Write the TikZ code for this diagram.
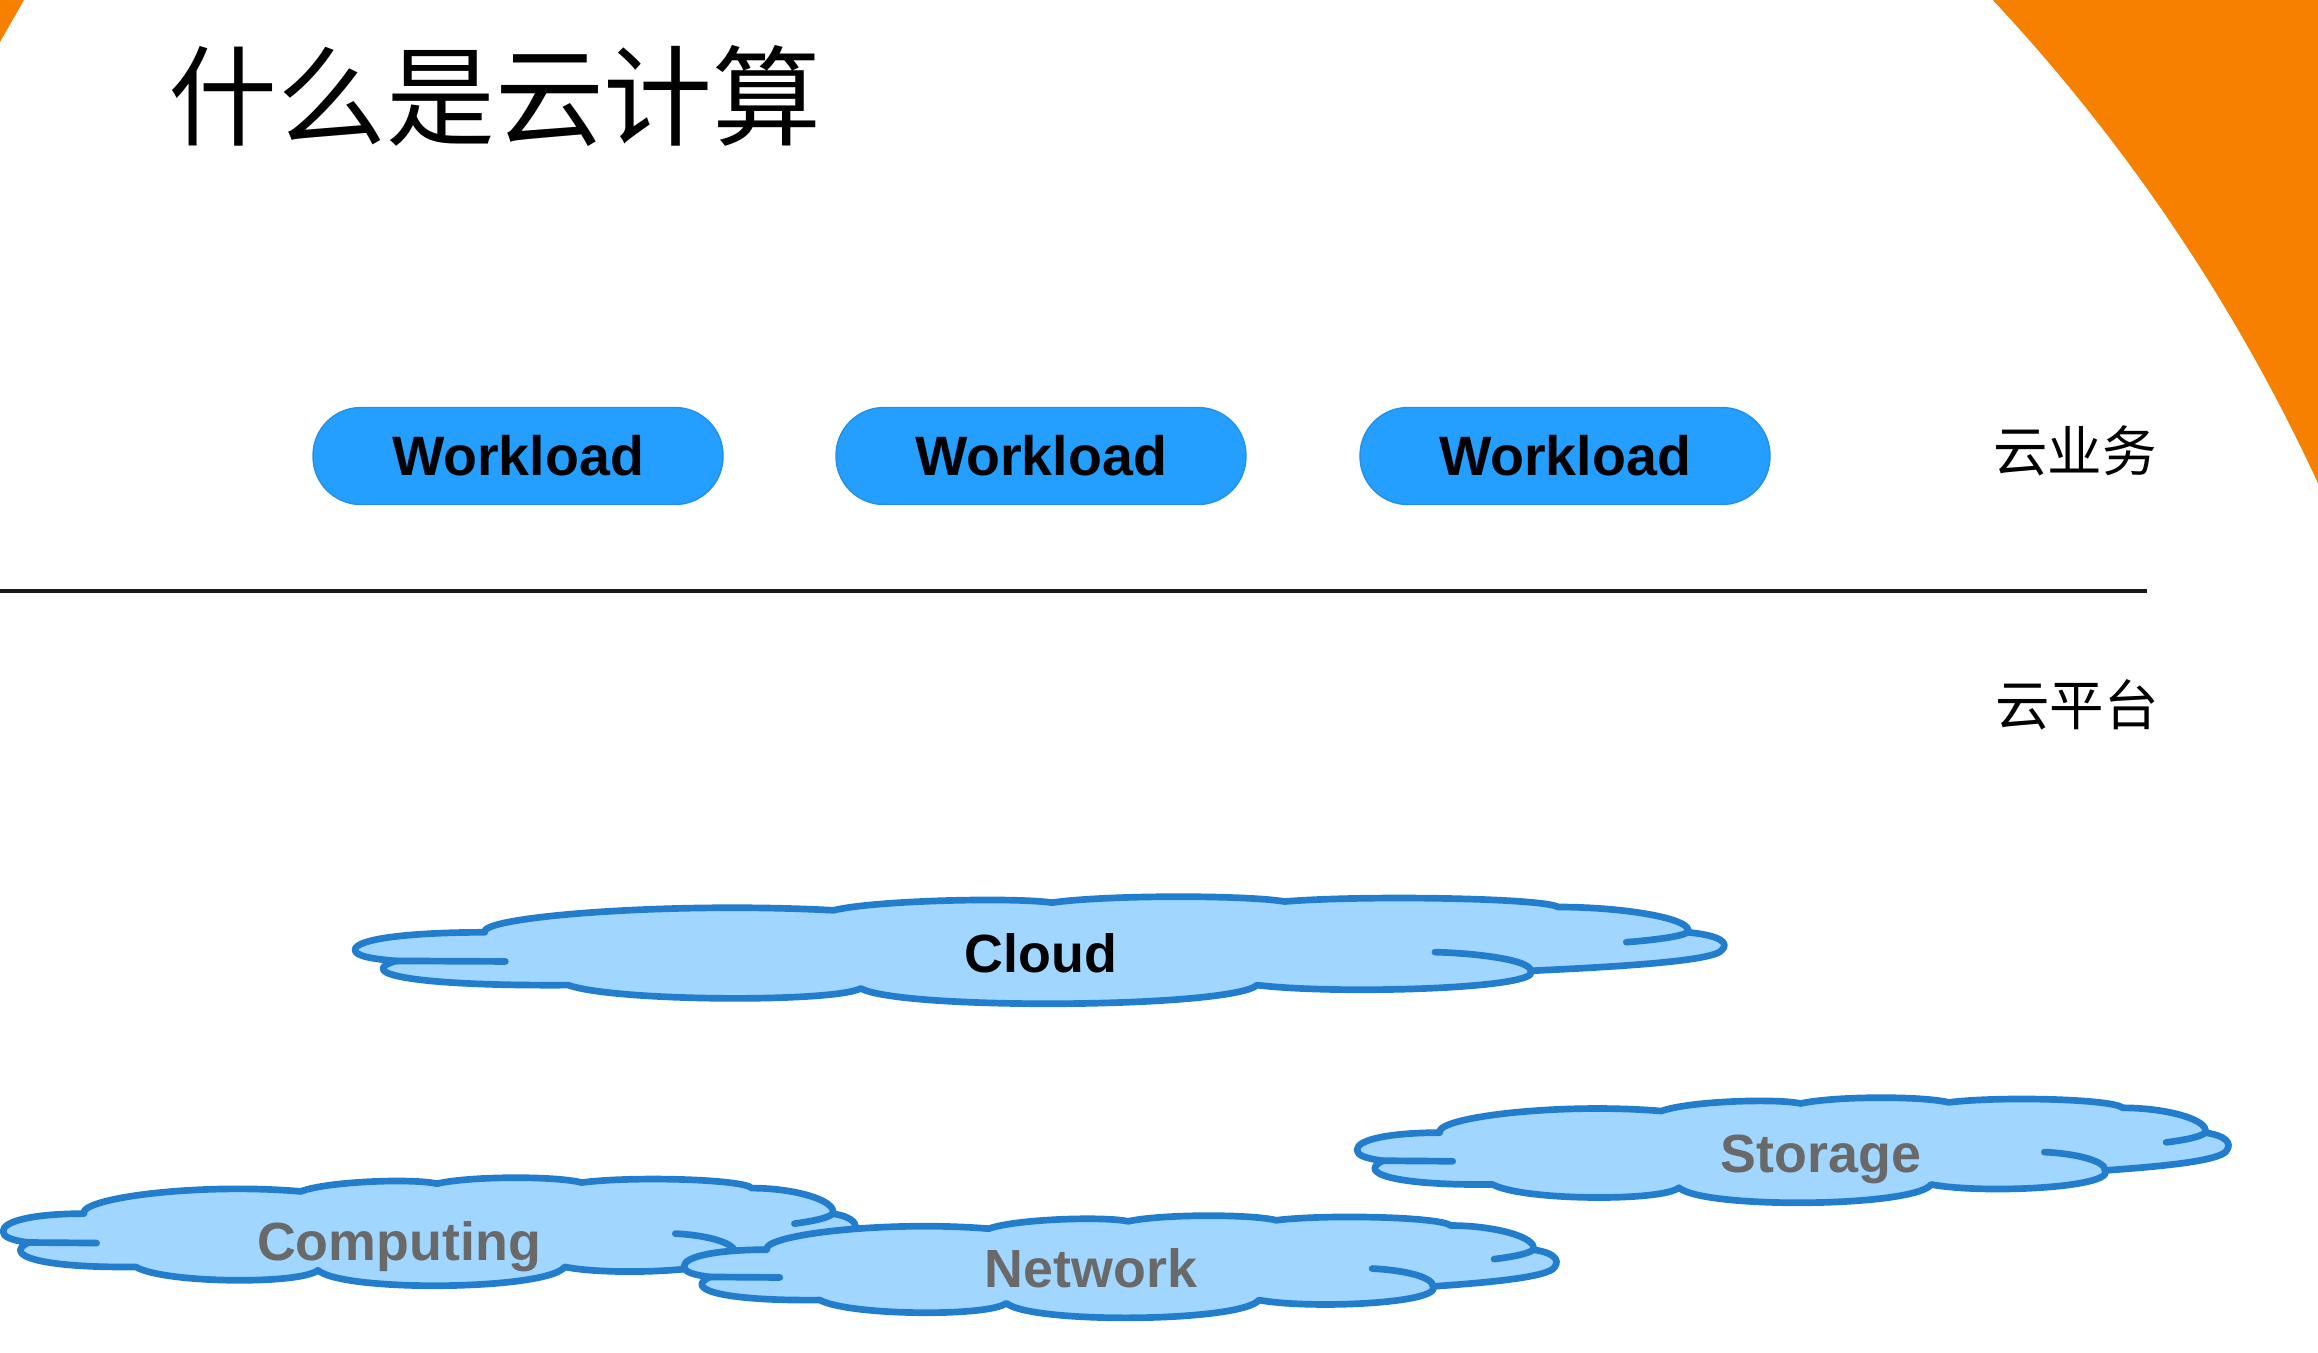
\documentclass[tikz,border=0pt]{standalone}
\usepackage{fontspec}
\setmainfont{Liberation Sans}
\newfontfamily\cjkfont{Noto Sans CJK SC}
\definecolor{slideorange}{RGB}{247,128,0}
\definecolor{wlblue}{RGB}{36,158,255}
\definecolor{cldfill}{RGB}{160,214,255}
\definecolor{cldline}{RGB}{35,125,205}
\definecolor{txtgray}{RGB}{105,105,105}
\tikzset{
  wlbox/.style={rectangle,rounded corners=4.8mm,fill=wlblue,draw=wlblue!92!black,
                minimum width=41mm,minimum height=9.7mm,text=black,
                font=\fontsize{15.8}{19}\selectfont\bfseries},
  cldtxt/.style={font=\fontsize{15.3}{18}\selectfont\bfseries,text=#1},
  cldtxt/.default=txtgray,
  cldpath/.style={draw=cldline,line width=1.9pt,line join=round},
  layertxt/.style={font=\cjkfont\fontsize{15.5}{18}\selectfont},
  pics/cloudpic/.style={code={
    \filldraw[cldpath,fill=cldfill] (0,49)
      .. controls (0,39) and (4,33) .. (9.5,33)
      .. controls (9,19) and (23,5) .. (35,13)
      .. controls (38,4) and (48,1) .. (51,6)
      .. controls (55,-1) and (65,-1) .. (68,5)
      .. controls (74,-1) and (87,2) .. (88,10)
      .. controls (93,10) and (98,21) .. (97.5,33)
      .. controls (100,36) and (100.5,43) .. (100,49)
      .. controls (99.5,60) and (91,65) .. (86,68)
      .. controls (87,84) and (72,90) .. (66,81)
      .. controls (64,102) and (40,104) .. (37,84)
      .. controls (35,97) and (19,96) .. (15.6,81)
      .. controls (4,82) and (0,70) .. (3,59)
      .. controls (1,57) and (0,54) .. (0,49) -- cycle;
    % inner strokes
    \draw[cldpath,line cap=round] (3,59) -- (11,59.5);
    \draw[cldpath,line cap=round] (79,51) .. controls (82,52) and (86,58) .. (86,68);
    \draw[cldpath,line cap=round] (93,42) .. controls (95,40) and (97,37) .. (97.5,33);
  }},
}

\begin{document}
\begin{tikzpicture}[x=0.1mm,y=-0.1mm]

  \useasboundingbox (0,0) rectangle (2318,1352);
  \fill[white] (0,0) rectangle (2318,1352);

  %% orange corners
  \begin{scope}
    \clip (0,0) rectangle (2318,1352);
    \fill[slideorange] (654,1252) ++(-45:1833)
      arc[start angle=-45,end angle=-20,radius=1833] -- (2450,-100) -- cycle;
    \fill[slideorange] (-10,-10) -- (24,0) -- (0,42) -- cycle;
  \end{scope}

  %% title
  \node[font=\cjkfont\fontsize{31}{36}\selectfont] (title) at (495,96) {什么是云计算};

  %% workloads
  \foreach \i/\x in {1/518,2/1041,3/1565}
    \node[wlbox] (wl\i) at (\x,456) {Workload};

  %% layer labels and divider
  \node[layertxt] (bizlbl) at (2075,451) {云业务};
  \node[layertxt] (platlbl) at (2077,705) {云平台};
  \coordinate (divL) at (0,591);
  \coordinate (divR) at (2147,591);
  \draw[line width=1.4pt,black!90] (divL) -- (divR);

  %% clouds
  \foreach \nm/\x/\y/\w/\h/\lx/\ly/\col in {
    Cloud/355/896/13.67/1.10/1041/953/black,
    Computing/3/1177/8.51/1.11/399/1247/txtgray,
    Network/684/1215/8.71/1.05/1091/1268/txtgray,
    Storage/1357/1097/8.70/1.08/1821/1159/txtgray}{
    \pic[xscale=\w,yscale=\h] at (\x,\y) {cloudpic};
    \node[cldtxt=\col] (\nm) at (\lx,\ly) {\nm};
  }

\end{tikzpicture}
\end{document}
